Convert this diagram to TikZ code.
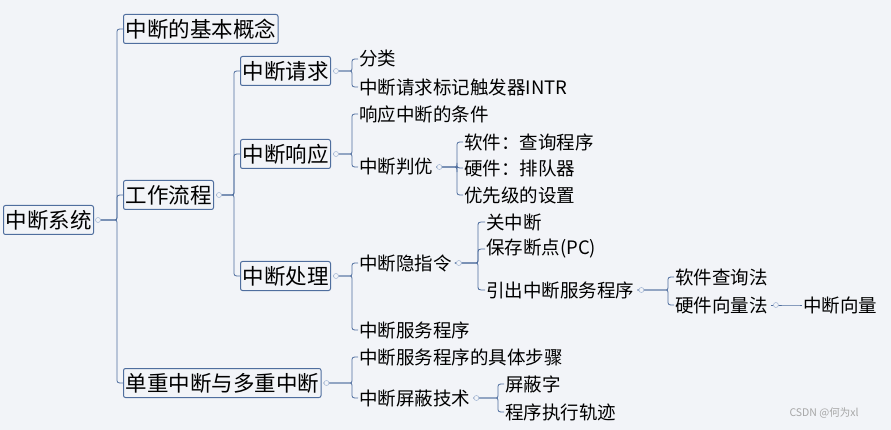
\documentclass[tikz,border=0pt]{standalone}
\usepackage{fontspec}
\setmainfont{Noto Sans CJK SC}
\usetikzlibrary{calc}
\definecolor{bg}{HTML}{F2F4F8}
\definecolor{ln}{HTML}{4F6E9E}
\definecolor{dotc}{HTML}{A9BBD6}
\tikzset{
  box/.style={draw=ln,line width=1pt,fill=bg,rounded corners=2pt,inner xsep=2pt,inner ysep=2pt,font=\fontsize{21.5}{21.5}\selectfont,anchor=west,minimum height=29pt},
  leaf/.style={inner sep=1pt,font=\fontsize{18.5}{18.5}\selectfont,anchor=west},
  conn/.style={draw=ln,line width=0.8pt},
  knob/.style={circle,draw=dotc,fill=bg,inner sep=0pt,minimum size=5pt,line width=0.6pt}
}
\newcommand\br[3]{\draw[conn] let \p1=(#1), \p2=(#2) in (\x1+2pt,\y1) -- ({#3pt-4pt},\y1) .. controls ({#3pt},\y1) .. ({#3pt},{\y1+5pt*sign(\y2-\y1)}) -- ({#3pt},{\y2-5pt*sign(\y2-\y1)}) .. controls ({#3pt},\y2) .. (\p2);}
\newcommand\knob[2]{\node[knob] at ($(#1)+(#2,0)$) {};}
\begin{document}
\begin{tikzpicture}[x=1pt,y=-1pt]
\useasboundingbox[fill=bg] (0,0) rectangle (891,430);
\node[box] (root) at (3,220) {中断系统};
\node[box] (a) at (123,29) {中断的基本概念};
\node[box] (b) at (123,195) {工作流程};
\node[box] (c) at (123,383) {单重中断与多重中断};
\node[box] (b1) at (240,71) {中断请求};
\node[box] (b2) at (240,154) {中断响应};
\node[box] (b3) at (240,276) {中断处理};
\node[leaf] (b11) at (358,59) {分类};
\node[leaf] (b12) at (358,87) {中断请求标记触发器INTR};
\node[leaf] (b21) at (358,114) {响应中断的条件};
\node[leaf] (b22) at (358,167) {中断判优};
\node[leaf] (b221) at (463,142) {软件：查询程序};
\node[leaf] (b222) at (463,168) {硬件：排队器};
\node[leaf] (b223) at (463,195) {优先级的设置};
\node[leaf] (b31) at (358,263) {中断隐指令};
\node[leaf] (b32) at (358,330) {中断服务程序};
\node[leaf] (b311) at (485,222) {关中断};
\node[leaf] (b312) at (485,249) {保存断点(PC)};
\node[leaf] (b313) at (485,290) {引出中断服务程序};
\node[leaf] (s1) at (674,277) {软件查询法};
\node[leaf] (s2) at (674,305) {硬件向量法};
\node[leaf] (s21) at (802,305) {中断向量};
\node[leaf] (c1) at (358,357) {中断服务程序的具体步骤};
\node[leaf] (c2) at (358,398) {中断屏蔽技术};
\node[leaf] (c21) at (504,384) {屏蔽字};
\node[leaf] (c22) at (504,412) {程序执行轨迹};
\node[anchor=west,text=gray!70,font=\fontsize{10.5}{10.5}\selectfont] (wm) at (786,413) {CSDN @何为xl};
% connectors
\foreach \ch in {a,b,c} {\br{root.east}{\ch.west}{117}}
\knob{root.east}{4}
\foreach \ch in {b1,b2,b3} {\br{b.east}{\ch.west}{234}}
\knob{b.east}{5}
\foreach \ch in {b11,b12} {\br{b1.east}{\ch.west}{352}}
\knob{b1.east}{5}
\foreach \ch in {b21,b22} {\br{b2.east}{\ch.west}{352}}
\knob{b2.east}{5}
\foreach \ch in {b31,b32} {\br{b3.east}{\ch.west}{352}}
\knob{b3.east}{5}
\foreach \ch in {b221,b222,b223} {\br{b22.east}{\ch.west}{457}}
\knob{b22.east}{5}
\foreach \ch in {b311,b312,b313} {\br{b31.east}{\ch.west}{478}}
\knob{b31.east}{6}
\foreach \ch in {s1,s2} {\br{b313.east}{\ch.west}{668}}
\knob{b313.east}{6}
\br{s2.east}{s21.west}{796}
\knob{s2.east}{7}
\foreach \ch in {c1,c2} {\br{c.east}{\ch.west}{352}}
\knob{c.east}{5}
\foreach \ch in {c21,c22} {\br{c2.east}{\ch.west}{498}}
\knob{c2.east}{5}
\end{tikzpicture}
\end{document}
